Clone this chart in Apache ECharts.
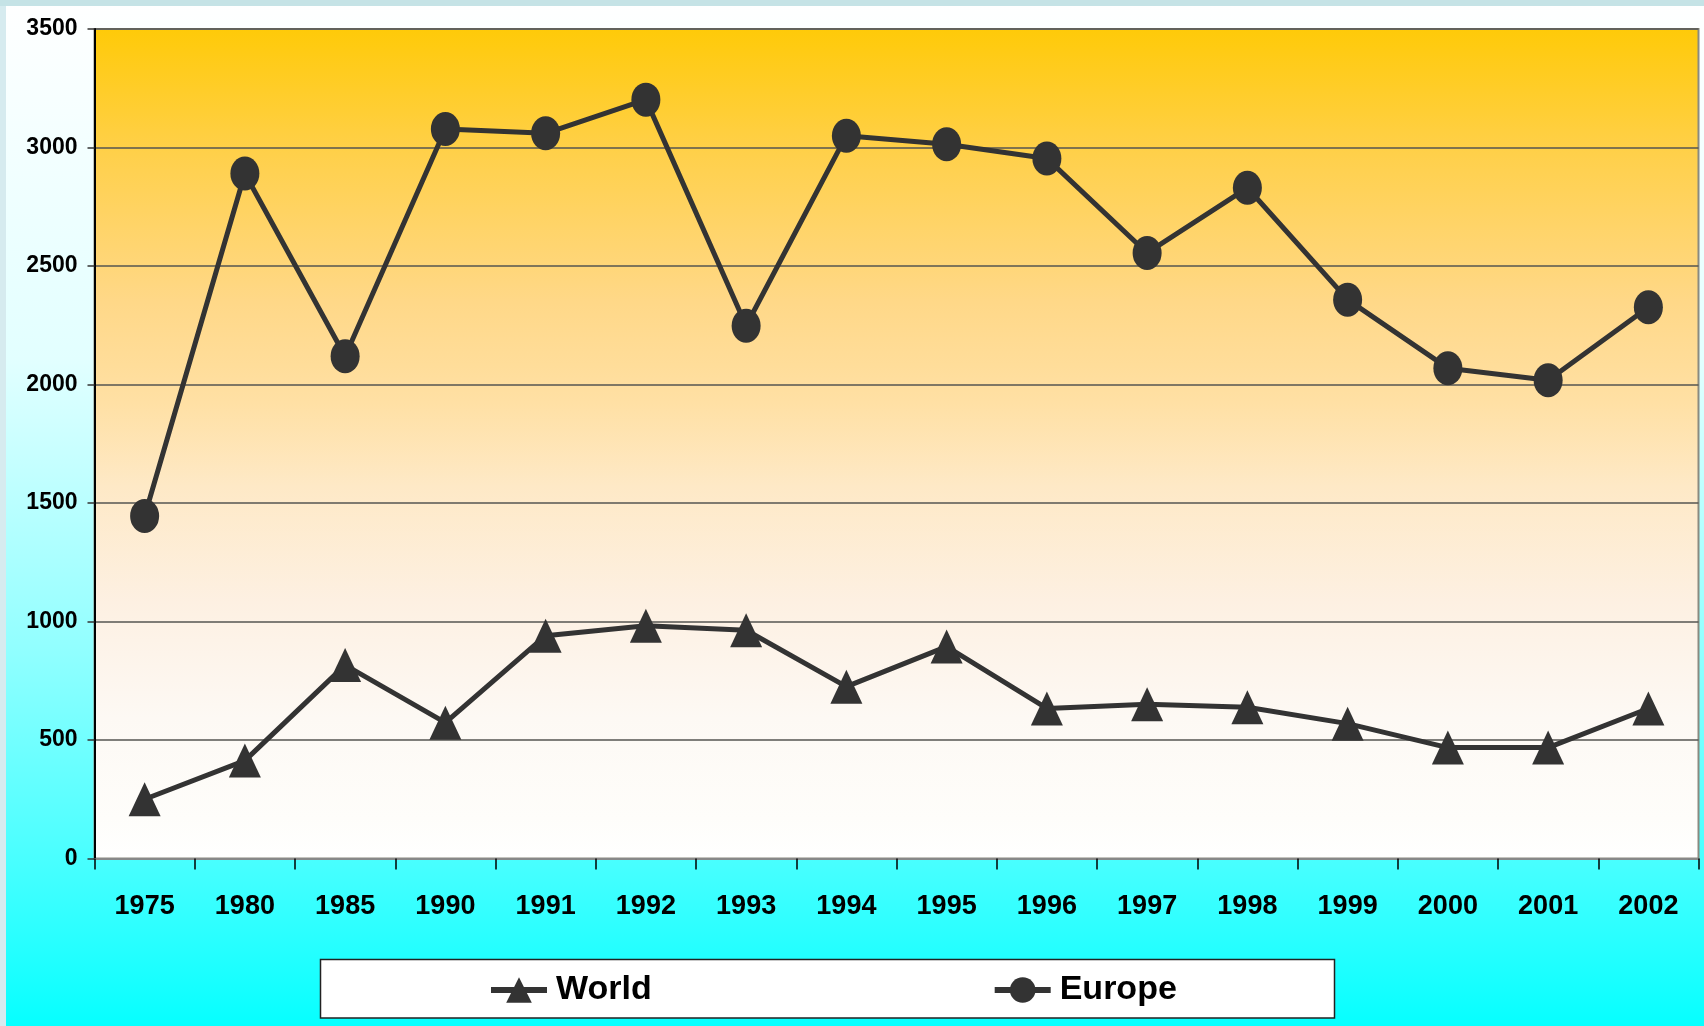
<!DOCTYPE html>
<html>
<head>
<meta charset="utf-8">
<script src="https://cdn.jsdelivr.net/npm/echarts@6/dist/echarts.min.js"></script>
<style>
html,body{margin:0;padding:0;}
#chart{position:relative;width:1704px;height:1026px;
background:
 linear-gradient(to bottom,#c5e3e6 0,#c5e3e6 6px,transparent 6px),
 linear-gradient(to right,#d6ebef 0,#d6ebef 6px,transparent 6px),
 linear-gradient(to bottom,#ffffff 0%,#e2ffff 35%,#92ffff 63%,#48ffff 84%,#06ffff 100%);}
</style>
</head>
<body>
<div id="chart"></div>
<script>
const categories = ['1975','1980','1985','1990','1991','1992','1993','1994','1995','1996','1997','1998','1999','2000','2001','2002'];
const worldValues = [250, 413, 816, 573, 940, 982, 963, 725, 894, 633, 651, 638, 569, 468, 468, 633];
const europeValues = [1445, 2890, 2119, 3078, 3060, 3202, 2248, 3050, 3014, 2954, 2555, 2830, 2358, 2069, 2018, 2326];
const yTicks = [0, 500, 1000, 1500, 2000, 2500, 3000, 3500];

const FONT = '"Liberation Sans Narrow","Arial Narrow","Liberation Sans",Arial,sans-serif';
const chart = echarts.init(document.getElementById('chart'), null, {renderer:'canvas'});
const option = {
  backgroundColor: 'transparent',
  animation: false,
  grid: {
    left: 94.5, right: 5.5, top: 29, bottom: 167.5,
    show: true,
    borderColor: '#8a8a80', borderWidth: 2,
    backgroundColor: {
      type: 'linear', x: 0, y: 0, x2: 0, y2: 1,
      colorStops: [
        {offset: 0, color: '#ffca08'},
        {offset: 0.15, color: '#ffd04a'},
        {offset: 0.33, color: '#ffd888'},
        {offset: 0.45, color: '#ffe0a4'},
        {offset: 0.55, color: '#fee9c6'},
        {offset: 0.69, color: '#fdf0e2'},
        {offset: 0.83, color: '#fdf9f4'},
        {offset: 0.95, color: '#fefdfa'},
        {offset: 1, color: '#ffffff'}
      ]
    }
  },
  graphic: [{
    type: 'rect', z: 1,
    shape: {x: 320.5, y: 959.5, width: 1014, height: 58.5},
    style: {fill: '#ffffff', stroke: '#222222', lineWidth: 1.5}
  }],
  legend: {
    z: 5,
    left: 488, top: 973,
    padding: 0,
    itemGap: 340,
    itemWidth: 56, itemHeight: 32,
    lineStyle: {width: 6, color: '#333333'},
    textStyle: {fontFamily: FONT, fontWeight: 'bold', fontSize: 34, color: '#000', padding: [0,0,0,4]},
    data: ['World', 'Europe']
  },
  xAxis: {
    type: 'category',
    data: categories,
    boundaryGap: true,
    axisLine: {show: true, lineStyle: {color: '#888888', width: 2}},
    axisTick: {show: true, interval: 0, length: 11, lineStyle: {color: '#000', width: 1.5}},
    axisLabel: {interval: 0, fontFamily: FONT, fontWeight: 'bold', fontSize: 27, color: '#000', margin: 35},
    splitLine: {show: false}
  },
  yAxis: {
    type: 'value',
    min: 0, max: 3500, interval: 500,
    axisLine: {show: true, lineStyle: {color: '#000', width: 2}},
    axisTick: {show: true, length: 7, lineStyle: {color: '#333', width: 1.5}},
    axisLabel: {fontFamily: FONT, fontWeight: 'bold', fontSize: 23, color: '#000', margin: 17,
      formatter: v => yTicks.includes(v) ? String(v) : ''},
    splitLine: {show: true, lineStyle: {color: '#555550', width: 1.5}}
  },
  series: [
    {
      name: 'World', type: 'line', data: worldValues,
      symbol: 'triangle', symbolSize: [32, 34],
      lineStyle: {color: '#333333', width: 5},
      itemStyle: {color: '#333333'},
      z: 3
    },
    {
      name: 'Europe', type: 'line', data: europeValues,
      symbol: 'circle', symbolSize: [29, 34],
      lineStyle: {color: '#333333', width: 5},
      itemStyle: {color: '#333333'},
      z: 3
    }
  ]
};
chart.setOption(option);
</script>
</body>
</html>
